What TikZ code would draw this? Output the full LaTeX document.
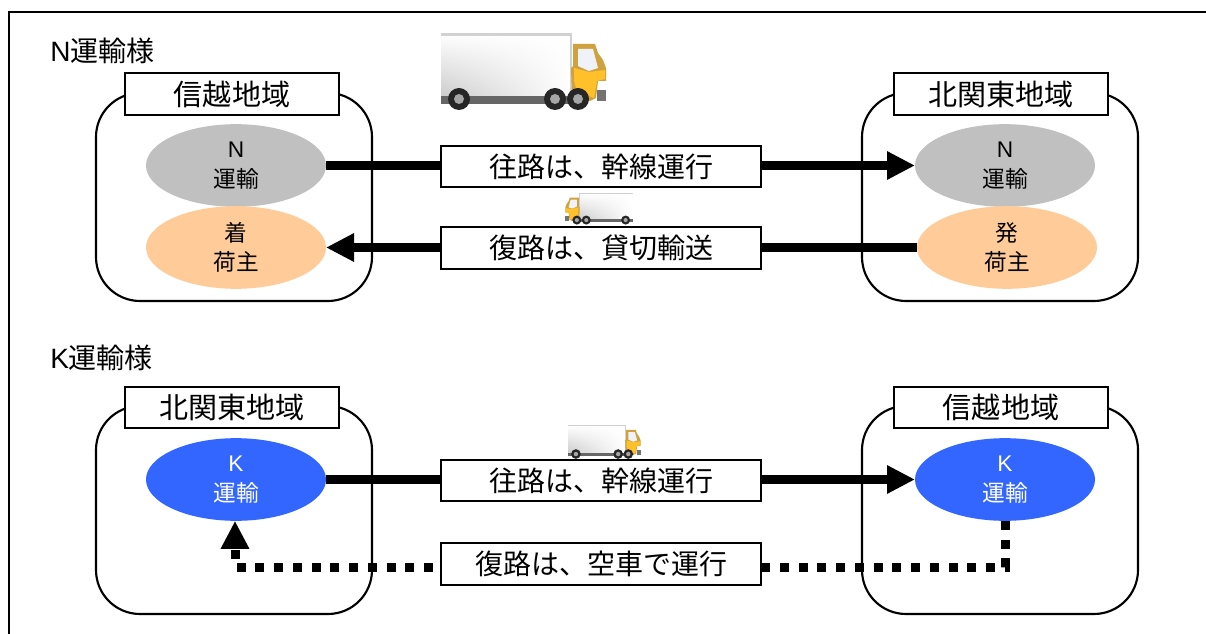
\documentclass[tikz,border=0pt]{standalone}
\usepackage{fontspec}
\setmainfont{Liberation Sans}
\newfontfamily\jp{Noto Sans CJK JP}
\usetikzlibrary{arrows.meta,shadings,shapes.geometric}
\definecolor{carrierGray}{HTML}{C0C0C0}
\definecolor{shipperOrange}{HTML}{FFCC99}
\definecolor{carrierBlue}{HTML}{3366FF}
\definecolor{cabEdge}{HTML}{CFA23F}
\definecolor{cabFill}{HTML}{FFC02A}
\definecolor{cabGlass}{HTML}{F0F2FA}
\tikzset{
  truck/.pic={
    \fill[lower left=black!20,upper left=white,upper right=white,lower right=white] (0,0) rectangle (131,64);
    \fill[black!18] (0,0) rectangle (131,3);
    \fill[black!18] (129,0) rectangle (131,64);
    \fill[black!60] (0,63) rectangle (135,71);
    \fill[black!55] (156,57) rectangle (165,68);
    \fill[cabEdge] (132,11) -- (154,11) -- (157,20) -- (162,27) -- (165,35) -- (165,48) -- (157,48) -- (155,65) -- (149,68) -- (131,65) -- (130,35) -- (132,33) -- cycle;
    \fill[cabFill] (133,35) -- (148,39) -- (164,37) -- (164,46) -- (156,48) -- (153,65) -- (136,58) -- (133,48) -- cycle;
    \fill[cabGlass] (137,16) -- (152,16) -- (157,35) -- (148,38) -- (137,33) -- cycle;
    \foreach \wx in {18,114,137}
    {
      \fill[black!85] (\wx,66) circle (11);
      \fill[black!35] (\wx,66) circle (5);
    }
  }
}
\begin{document}
\begin{tikzpicture}[
  x=0.75pt,y=-0.75pt,
  frameline/.style={draw=black,line width=1.5pt},
  region/.style={
    draw=black,line width=1.6pt,rounded corners=33pt,
    minimum width=207pt,minimum height=156pt,
    inner sep=0pt,outer sep=0pt
  },
  areaname/.style={
    draw=black,line width=1.4pt,fill=white,
    minimum width=160pt,minimum height=31pt,
    inner sep=0pt,font=\jp\fontsize{21.8}{24}\selectfont
  },
  routename/.style={
    draw=black,line width=1.4pt,fill=white,
    minimum width=240pt,minimum height=31pt,
    inner sep=0pt,font=\jp\fontsize{21}{24}\selectfont
  },
  party/.style={
    ellipse,minimum width=135pt,minimum height=62pt,
    inner sep=0pt,outer sep=0pt,align=center,
    font=\fontsize{17}{22}\selectfont
  },
  carrier/.style={party,fill=carrierGray},
  shipper/.style={party,fill=shipperOrange},
  carrierk/.style={party,fill=carrierBlue,text=white},
  title/.style={anchor=west,inner sep=0pt,font=\fontsize{21}{24}\selectfont},
  haul/.style={line width=6.75pt,-{Triangle[length=21pt,width=20pt]}},
  emptyrun/.style={
    line width=6.75pt,dash pattern=on 6.75pt off 7.3pt,
    -{Triangle[length=21pt,width=20pt]}
  }
]
\useasboundingbox (0,0) rectangle (1206,634);
\draw[frameline] (9,634) -- (9,12) -- (1206,12);
\node[title] (titleN) at (50,51) {N{\jp 運輸様}};
\node[title] (titleK) at (50,358) {K{\jp 運輸様}};
% upper pair of areas
\node[region] (areaA) at (234,197) {};
\node[region] (areaB) at (1000,197) {};
\node[areaname] (nameA) at (232,94) {信越地域};
\node[areaname] (nameB) at (1001,94) {北関東地域};
\node[carrier] (carrierA) at (236,165.5) {N\\{\jp 運輸}};
\node[carrier] (carrierB) at (1005,165.5) {N\\{\jp 運輸}};
\node[shipper] (shipperA) at (236,247.5) {{\jp 着}\\{\jp 荷主}};
\node[shipper] (shipperB) at (1007,247.5) {{\jp 発}\\{\jp 荷主}};
\draw[haul] (carrierA) -- (carrierB);
\draw[haul] (shipperB) -- (shipperA);
\node[routename] (outN) at (601,166.5) {往路は、幹線運行};
\node[routename] (backN) at (601,248) {復路は、貸切輸送};
% lower pair of areas
\node[region] (areaC) at (234,510) {};
\node[region] (areaD) at (1000,510) {};
\node[areaname] (nameC) at (232,407.5) {北関東地域};
\node[areaname] (nameD) at (1001,407.5) {信越地域};
\node[carrierk] (carrierC) at (236,479.5) {K\\{\jp 運輸}};
\node[carrierk] (carrierD) at (1005,479.5) {K\\{\jp 運輸}};
\coordinate (turnD) at (1005,567);
\coordinate (turnC) at (235,567);
\draw[haul] (carrierC) -- (carrierD);
\draw[emptyrun] (carrierD.south) -- (turnD) -- (turnC) -- (carrierC.south -| turnC);
\node[routename] (outK) at (601,480.5) {往路は、幹線運行};
\node[routename] (backK) at (601,564) {復路は、空車で運行};
% trucks
\pic at (441,33) {truck};
\pic[xscale=-.41,yscale=.41] at (633,193) {truck};
\pic[scale=.44] at (568,425) {truck};
\end{tikzpicture}
\end{document}
